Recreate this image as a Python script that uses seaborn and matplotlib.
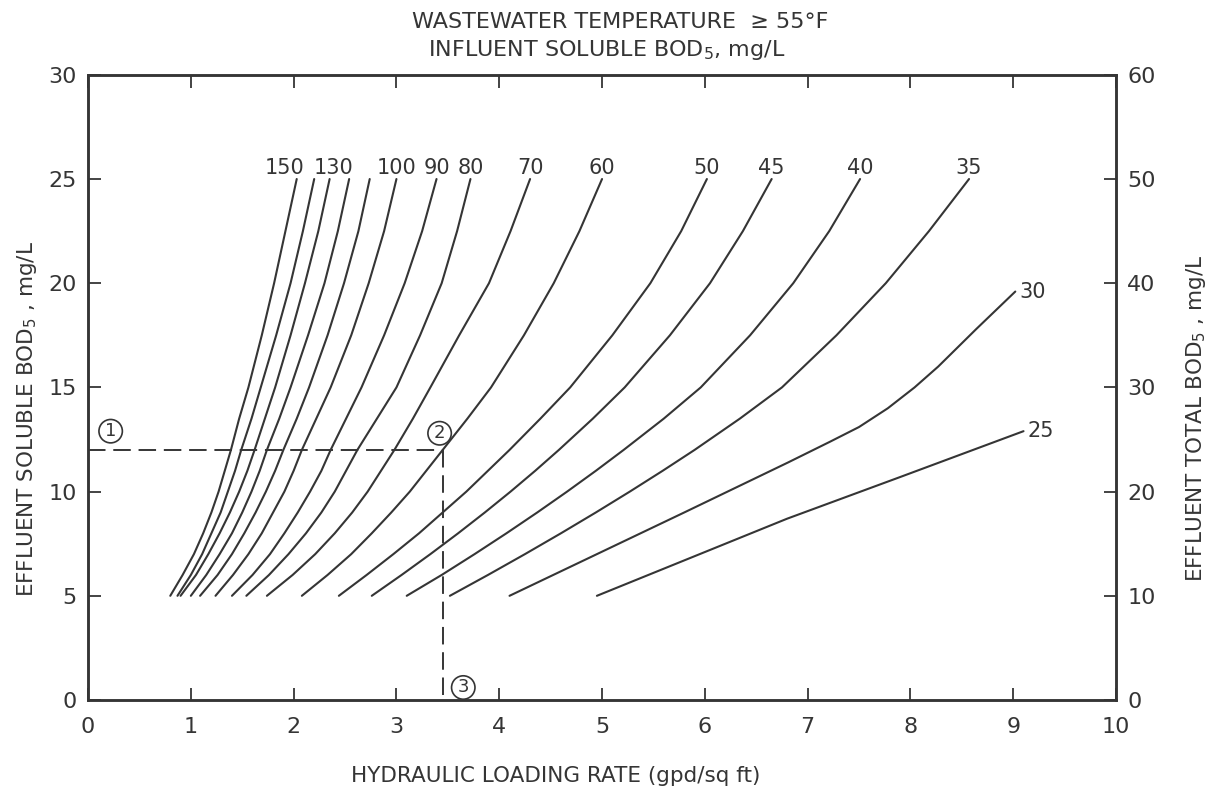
"""Trickling filter / RBC design chart: effluent BOD vs hydraulic loading rate."""

import matplotlib
matplotlib.use("Agg")
import matplotlib.pyplot as plt
import numpy as np
import pandas as pd
import seaborn as sns

# Effluent soluble BOD5 levels (mg/L) at which each curve was read
eff_levels = [5, 6, 7, 8, 9, 10, 11, 12, 13.5, 15, 17.5, 20, 22.5, 25]

# Hydraulic loading rate (gpd/sq ft) read at eff_levels, one list per influent BOD5
hlr_150 = [0.80, 0.92, 1.03, 1.12, 1.20, 1.27, 1.33, 1.39, 1.47, 1.56, 1.69, 1.81, 1.92, 2.03]
hlr_140 = [0.87, 1.00, 1.11, 1.20, 1.29, 1.36, 1.43, 1.49, 1.59, 1.68, 1.83, 1.97, 2.09, 2.20]
hlr_130 = [0.90, 1.05, 1.17, 1.28, 1.38, 1.47, 1.55, 1.62, 1.72, 1.82, 1.97, 2.11, 2.24, 2.35]
hlr_120 = [1.00, 1.15, 1.28, 1.40, 1.50, 1.59, 1.67, 1.74, 1.86, 1.97, 2.14, 2.30, 2.43, 2.54]
hlr_110 = [1.09, 1.26, 1.40, 1.52, 1.63, 1.73, 1.82, 1.90, 2.03, 2.15, 2.33, 2.49, 2.63, 2.74]
hlr_100 = [1.24, 1.41, 1.56, 1.69, 1.80, 1.91, 2.00, 2.08, 2.22, 2.36, 2.56, 2.73, 2.88, 3.00]
hlr_90 = [1.40, 1.60, 1.77, 1.91, 2.04, 2.16, 2.27, 2.36, 2.51, 2.66, 2.88, 3.08, 3.25, 3.39]
hlr_80 = [1.54, 1.76, 1.95, 2.12, 2.27, 2.40, 2.51, 2.62, 2.81, 3.00, 3.23, 3.44, 3.59, 3.72]
hlr_70 = [1.74, 1.99, 2.21, 2.40, 2.57, 2.72, 2.85, 2.98, 3.16, 3.33, 3.61, 3.90, 4.11, 4.30]
hlr_60 = [2.08, 2.33, 2.56, 2.76, 2.95, 3.13, 3.29, 3.45, 3.69, 3.92, 4.24, 4.53, 4.78, 5.00]
hlr_50 = [2.44, 2.71, 2.97, 3.22, 3.45, 3.68, 3.89, 4.10, 4.40, 4.69, 5.10, 5.47, 5.77, 6.02]
hlr_45 = [2.76, 3.05, 3.33, 3.60, 3.86, 4.11, 4.35, 4.58, 4.91, 5.22, 5.66, 6.05, 6.37, 6.65]
hlr_40 = [3.10, 3.44, 3.76, 4.07, 4.37, 4.66, 4.94, 5.21, 5.60, 5.96, 6.44, 6.86, 7.21, 7.51]
hlr_35 = [3.52, 3.89, 4.25, 4.60, 4.94, 5.27, 5.59, 5.90, 6.34, 6.75, 7.28, 7.76, 8.18, 8.57]

# the two lowest curves stop below 25 mg/L
hlr_30 = [4.10, 4.95, 5.80, 6.81, 7.22, 7.50, 7.78, 8.04, 8.27, 8.64, 9.02]
eff_30 = [5.0, 7.0, 9.0, 11.4, 12.4, 13.1, 14.0, 15.0, 16.0, 17.8, 19.6]
hlr_25 = [4.95, 5.90, 6.80, 7.90, 9.10]
eff_25 = [5.0, 6.9, 8.7, 10.7, 12.9]

influent = [150, 140, 130, 120, 110, 100, 90, 80, 70, 60, 50, 45, 40, 35, 30, 25]
shown_labels = ["150", "", "130", "", "", "100", "90", "80", "70", "60",
                "50", "45", "40", "35", "30", "25"]

# design example: 60 mg/L influent, 12 mg/L effluent -> 3.45 gpd/sq ft
example_eff = 12
example_hlr = 3.45

curves = [hlr_150, hlr_140, hlr_130, hlr_120, hlr_110, hlr_100, hlr_90,
          hlr_80, hlr_70, hlr_60, hlr_50, hlr_45, hlr_40, hlr_35]
frames = [pd.DataFrame({"hlr": h, "bod": eff_levels, "influent": inf})
          for h, inf in zip(curves, influent)]
frames.append(pd.DataFrame({"hlr": hlr_30, "bod": eff_30, "influent": 30}))
frames.append(pd.DataFrame({"hlr": hlr_25, "bod": eff_25, "influent": 25}))
df = pd.concat(frames, ignore_index=True)

ink = "#353535"
sns.set_style("ticks")
plt.rcParams["font.family"] = ["DejaVu Sans"]
plt.rcParams["mathtext.default"] = "regular"
plt.rcParams["text.color"] = ink
plt.rcParams["axes.labelcolor"] = ink
plt.rcParams["xtick.color"] = ink
plt.rcParams["ytick.color"] = ink

fig = plt.figure(figsize=(12.16, 7.96), dpi=100)
ax = fig.add_axes([0.0724, 0.1206, 0.8454, 0.7854])

sns.lineplot(data=df, x="hlr", y="bod", units="influent", estimator=None,
             sort=False, color=ink, lw=1.5, ax=ax)

# curve labels at the end of each line
for inf, text in zip(influent, shown_labels):
    if not text:
        continue
    sub = df[df["influent"] == inf]
    x_end, y_end = sub["hlr"].iloc[-1], sub["bod"].iloc[-1]
    if inf in (30, 25):
        ax.annotate(text, (x_end, y_end), xytext=(3, 0), textcoords="offset points",
                    ha="left", va="center", fontsize=15)
    else:
        dx = {150: -9, 130: 3}.get(inf, 0)
        ax.annotate(text, (x_end, y_end), xytext=(dx, 1), textcoords="offset points",
                    ha="center", va="bottom", fontsize=15)

# dashed construction lines for the worked example
ax.plot([0, example_hlr], [example_eff, example_eff], ls=(0, (9, 4)), color=ink, lw=1.4)
ax.plot([example_hlr, example_hlr], [example_eff, 0], ls=(0, (9, 4)), color=ink, lw=1.4)
circ = dict(boxstyle="circle,pad=0.15", fc="white", ec=ink, lw=1.2)
ax.text(0.22, example_eff + 0.9, "1", ha="center", va="center", fontsize=13, bbox=circ)
ax.text(example_hlr - 0.03, example_eff + 0.8, "2", ha="center", va="center", fontsize=13,
        bbox=dict(boxstyle="circle,pad=0.15", fc="none", ec=ink, lw=1.2))
ax.text(example_hlr + 0.2, 0.6, "3", ha="center", va="center", fontsize=13, bbox=circ)

ax.set_xlim(0, 10)
ax.set_ylim(0, 30)
ax.set_xticks(np.arange(0, 11, 1))
ax.set_yticks(np.arange(0, 31, 5))
ax.tick_params(axis="both", direction="in", length=9, width=1.3, labelsize=16, top=True)
ax.tick_params(axis="x", pad=12)
ax.tick_params(axis="y", pad=8)
for side in ax.spines.values():
    side.set_linewidth(1.8)
    side.set_color(ink)

ax.set_xlabel("HYDRAULIC LOADING RATE (gpd/sq ft)", fontsize=15.5)
ax.xaxis.set_label_coords(0.455, -0.105)
ax.set_ylabel("EFFLUENT SOLUBLE BOD$_5$ , mg/L", fontsize=15.5)
ax.yaxis.set_label_coords(-0.048, 0.45)

# right axis: total BOD5 is twice the soluble value
ax2 = ax.twinx()
ax2.set_ylim(0, 60)
ax2.set_yticks(np.arange(0, 61, 10))
ax2.tick_params(direction="in", length=9, width=1.3, labelsize=16, pad=8)
ax2.set_ylabel("EFFLUENT TOTAL BOD$_5$ , mg/L", fontsize=15.5)
ax2.yaxis.set_label_coords(1.066, 0.45)
for side in ax2.spines.values():
    side.set_linewidth(1.8)
    side.set_color(ink)

fig.text(0.51, 0.972, "WASTEWATER TEMPERATURE  \u2265 55\u00b0F", ha="center",
         va="center", fontsize=16)
fig.text(0.499, 0.937, "INFLUENT SOLUBLE BOD$_5$, mg/L", ha="center", va="center",
         fontsize=16)

fig.savefig("out.png", dpi=100, facecolor="white")
